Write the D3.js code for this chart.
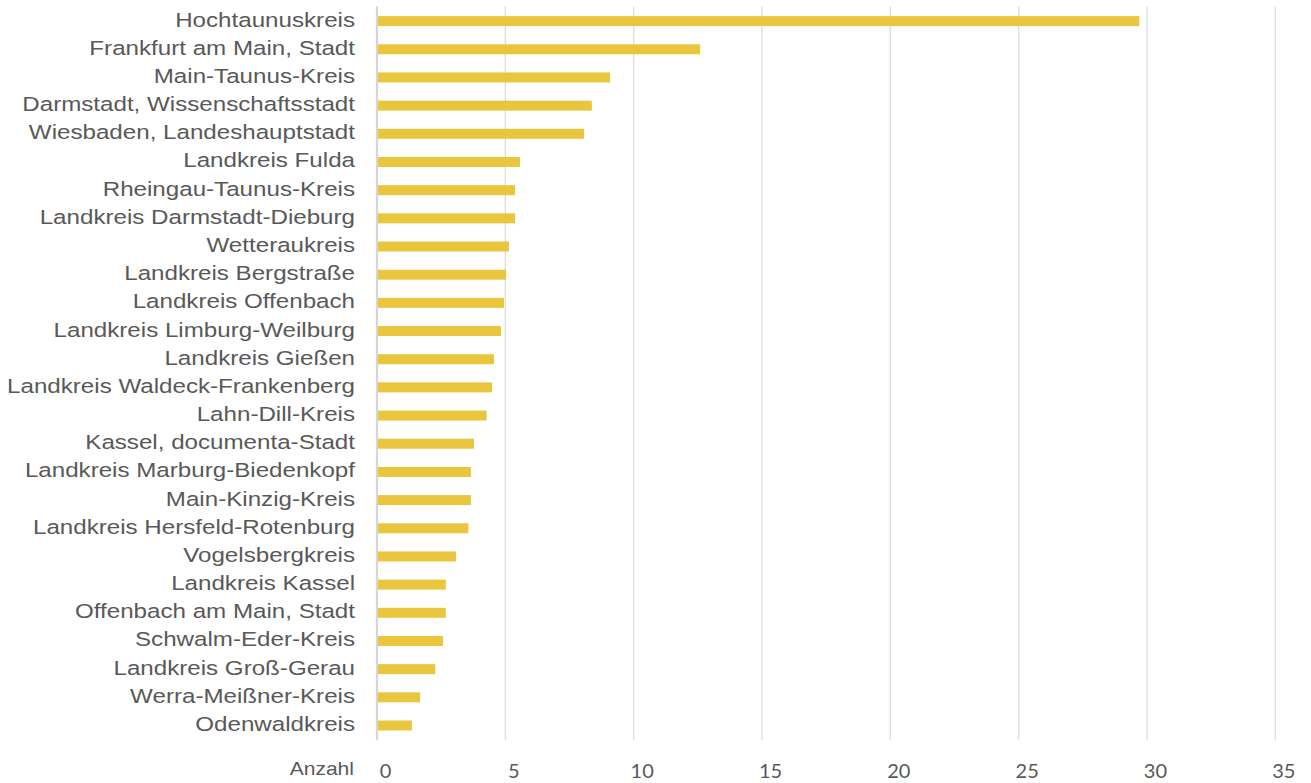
<!DOCTYPE html>
<html>
<head>
<meta charset="utf-8">
<script src="https://cdn.jsdelivr.net/npm/d3@7"></script>
<style>
  body { margin: 0; background: #fff; }
  svg { display: block; }
</style>
</head>
<body>
<svg id="chart" width="1311" height="783"></svg>
<script>
// Landkreise / kreisfreie Städte, sorted as in the chart
const regions = [
    'Hochtaunuskreis', 'Frankfurt am Main, Stadt', 'Main-Taunus-Kreis',
    'Darmstadt, Wissenschaftsstadt', 'Wiesbaden, Landeshauptstadt', 'Landkreis Fulda',
    'Rheingau-Taunus-Kreis', 'Landkreis Darmstadt-Dieburg', 'Wetteraukreis',
    'Landkreis Bergstraße', 'Landkreis Offenbach', 'Landkreis Limburg-Weilburg',
    'Landkreis Gießen', 'Landkreis Waldeck-Frankenberg', 'Lahn-Dill-Kreis',
    'Kassel, documenta-Stadt', 'Landkreis Marburg-Biedenkopf', 'Main-Kinzig-Kreis',
    'Landkreis Hersfeld-Rotenburg', 'Vogelsbergkreis', 'Landkreis Kassel',
    'Offenbach am Main, Stadt', 'Schwalm-Eder-Kreis', 'Landkreis Groß-Gerau',
    'Werra-Meißner-Kreis', 'Odenwaldkreis'
];
const anzahl = [
    29.7, 12.59, 9.08, 8.37, 8.07, 5.57,
    5.38, 5.38, 5.14, 5.03, 4.95, 4.83,
    4.56, 4.48, 4.27, 3.78, 3.66, 3.66,
    3.56, 3.08, 2.68, 2.68, 2.57, 2.27,
    1.68, 1.36
];
const xTicks = [0, 5, 10, 15, 20, 25, 30, 35];
const axisTitle = 'Anzahl';

const textColor = '#595959';
const barColor = '#E9C63E';
const stretch = 1.19;   // labels in the original are a bit wider than Arial

const svg = d3.select('#chart');

const x = d3.scaleLinear().domain([0, 35]).range([377, 1275.3]);
const y = d3.scaleBand().domain(regions).range([6.5, 739.5]).paddingInner(0.645).paddingOuter(0.33);

// gridlines
svg.append('g').attr('id', 'grid')
    .selectAll('line')
    .data(xTicks)
    .enter().append('line')
    .attr('x1', function(d) { return x(d); })
    .attr('x2', function(d) { return x(d); })
    .attr('y1', 6.5)
    .attr('y2', 740)
    .style('stroke', function(d) { return d === 0 ? '#d6d6d6' : '#dedede'; })
    .style('stroke-width', function(d) { return d === 0 ? 2.2 : 1.4; });

// bars
svg.append('g').attr('id', 'bars')
    .selectAll('rect')
    .data(anzahl)
    .enter().append('rect')
    .attr('x', x(0) + 1)
    .attr('y', function(d, i) { return y(regions[i]) + (y.bandwidth() - 10) / 2 + 0.3; })
    .attr('width', function(d) { return x(d) - x(0) - 1; })
    .attr('height', 10)
    .style('fill', barColor);

// category labels
svg.append('g').attr('id', 'labels')
    .selectAll('text')
    .data(regions)
    .enter().append('text')
    .attr('transform', function(d) {
        return 'translate(355,' + (y(d) + y.bandwidth() / 2 + 5.8) + ') scale(' + stretch + ',1)';
    })
    .attr('text-anchor', 'end')
    .style('font-family', '"Liberation Sans", Arial, sans-serif')
    .style('font-size', '20.3px')
    .style('fill', textColor)
    .text(function(d) { return d; });

// x tick labels
svg.append('g').attr('id', 'ticks')
    .selectAll('text')
    .data(xTicks)
    .enter().append('text')
    .attr('x', function(d) { return x(d) + 8.5; })
    .attr('y', 778)
    .attr('text-anchor', 'middle')
    .style('font-family', 'Lato, sans-serif')
    .style('font-size', '20px')
    .style('fill', textColor)
    .text(function(d) { return d; });

svg.append('text')
    .attr('transform', 'translate(354,775) scale(1.17,1)')
    .attr('text-anchor', 'end')
    .style('font-family', '"Liberation Sans", Arial, sans-serif')
    .style('font-size', '18px')
    .style('fill', textColor)
    .text(axisTitle);
</script>
</body>
</html>
